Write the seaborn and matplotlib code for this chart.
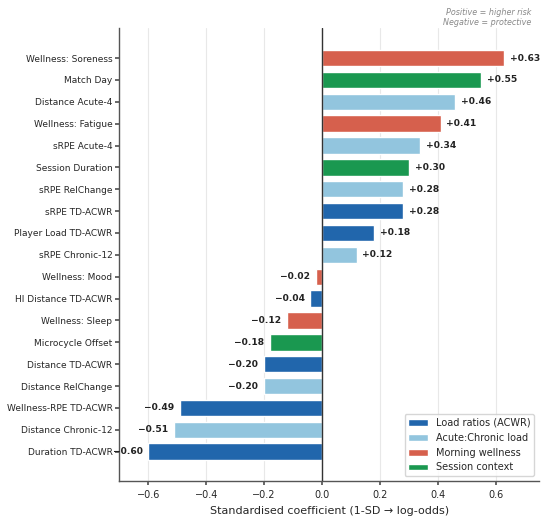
import pandas as pd
import matplotlib
matplotlib.use("Agg")
import matplotlib.pyplot as plt
import seaborn as sns

# Coefficients (top to bottom)
features = [
    "Wellness: Soreness", "Match Day", "Distance Acute-4", "Wellness: Fatigue",
    "sRPE Acute-4", "Session Duration", "sRPE RelChange", "sRPE TD-ACWR",
    "Player Load TD-ACWR", "sRPE Chronic-12", "Wellness: Mood",
    "HI Distance TD-ACWR", "Wellness: Sleep", "Microcycle Offset",
    "Distance TD-ACWR", "Distance RelChange", "Wellness-RPE TD-ACWR",
    "Distance Chronic-12", "Duration TD-ACWR",
]
coefs = [0.63, 0.55, 0.46, 0.41, 0.34, 0.30, 0.28, 0.28, 0.18, 0.12,
         -0.02, -0.04, -0.12, -0.18, -0.20, -0.20, -0.49, -0.51, -0.60]
groups = [
    "Morning wellness", "Session context", "Acute:Chronic load", "Morning wellness",
    "Acute:Chronic load", "Session context", "Acute:Chronic load", "Load ratios (ACWR)",
    "Load ratios (ACWR)", "Acute:Chronic load", "Morning wellness",
    "Load ratios (ACWR)", "Morning wellness", "Session context",
    "Load ratios (ACWR)", "Acute:Chronic load", "Load ratios (ACWR)",
    "Acute:Chronic load", "Load ratios (ACWR)",
]
group_order = ["Load ratios (ACWR)", "Acute:Chronic load", "Morning wellness", "Session context"]
palette = {
    "Load ratios (ACWR)": "#2166ac",
    "Acute:Chronic load": "#92c5de",
    "Morning wellness": "#d6604d",
    "Session context": "#1a9850",
}

df = pd.DataFrame({"feature": features, "coef": coefs, "group": groups})

sns.set_theme(style="whitegrid")
plt.rcParams["font.family"] = ["DejaVu Sans"]

fig, ax = plt.subplots(figsize=(5.5, 5.18), dpi=100)
fig.subplots_adjust(left=0.217, right=0.98, bottom=0.071, top=0.945)

sns.barplot(data=df, x="coef", y="feature", hue="group", hue_order=group_order,
            palette=palette, saturation=1, dodge=False, width=0.75, orient="h", ax=ax)

ax.axvline(0, color="#333333", lw=1.0, zorder=3)

for i, v in enumerate(coefs):
    sign = "+" if v >= 0 else "\u2212"
    ax.text(v + (0.02 if v >= 0 else -0.02), i, f"{sign}{abs(v):.2f}",
            va="center", ha="left" if v >= 0 else "right",
            fontsize=6.6, fontweight="bold", color="#222222")

ax.set_xlim(-0.70, 0.75)
ax.set_ylim(len(features) - 1 + 1.35, -1.35)
ax.set_xlabel("Standardised coefficient (1-SD \u2192 log-odds)", fontsize=8)
ax.set_ylabel("")
ax.tick_params(axis="y", labelsize=6.5, length=3, color="#555555", left=True, pad=2)
ax.tick_params(axis="x", labelsize=7, length=3, color="#555555", bottom=True)
ax.grid(axis="y", visible=False)
ax.grid(axis="x", color="#e8e8e8", lw=0.8)
for s in ["top", "right"]:
    ax.spines[s].set_visible(False)
for s in ["left", "bottom"]:
    ax.spines[s].set_color("#555555")
    ax.spines[s].set_linewidth(1.0)

ax.legend(loc="lower right", fontsize=7, frameon=True, title=None)

fig.text(0.966, 0.985, "Positive = higher risk\nNegative = protective",
         ha="right", va="top", fontsize=5.8, style="italic", color="#888888")

fig.savefig("out.png", dpi=100)
